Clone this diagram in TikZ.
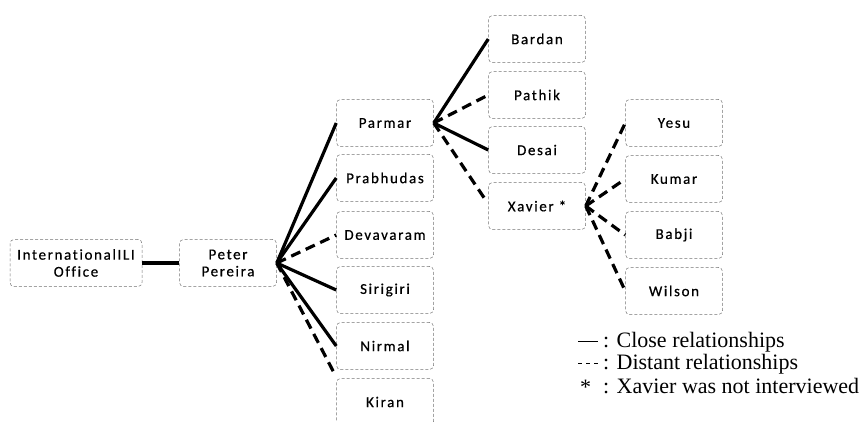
\documentclass[tikz,border=0pt]{standalone}
\usepackage{fontspec}
\setmainfont{Liberation Serif}
\newfontfamily\boxfont[LetterSpace=11,FakeBold=0.6,Ligatures={NoCommon}]{Carlito}
\begin{document}
\begin{tikzpicture}[x=1pt,y=-1pt,
  personbox/.style={draw=black!55, densely dashed, line width=0.5pt, rounded corners=4pt,
    minimum width=97pt, minimum height=47pt, align=center, inner sep=1pt,
    font=\boxfont\fontsize{15}{17}\selectfont},
  tie/.style={line width=3.2pt, line cap=butt},
  close/.style={tie},
  distant/.style={tie, dash pattern=on 10pt off 6pt},
  keyline/.style={line width=1pt},
  legendtext/.style={anchor=west, inner sep=0pt, font=\fontsize{22}{22}\selectfont}
]
\useasboundingbox (0,0) rectangle (863,422);
\begin{scope}
\clip (0,0) rectangle (863,422);
% root and first level
\node[personbox, minimum width=132pt] (ili) at (76,263) {Internati{}onalILI\\Office};
\node[personbox] (pp) at (228,263) {Peter\\Pereira};
% second column
\node[personbox] (parmar) at (385,123) {Parmar};
\node[personbox] (prabhudas) at (385,178) {Prabhudas};
\node[personbox] (devavaram) at (385,235) {Devavaram};
\node[personbox] (sirigiri) at (385,290) {Sirigiri};
\node[personbox] (nirmal) at (385,346) {Nirmal};
\node[personbox] (kiran) at (385,402) {Kiran};
% third column
\node[personbox] (bardan) at (537,39) {Bardan};
\node[personbox] (pathik) at (537,95) {Pathik};
\node[personbox] (desai) at (537,150) {Desai};
\node[personbox] (xavier) at (537,206) {Xavier *};
% fourth column
\node[personbox] (yesu) at (674,123) {Yesu};
\node[personbox] (kumar) at (674,179) {Kumar};
\node[personbox] (babji) at (674,235) {Babji};
\node[personbox] (wilson) at (674,291) {Wilson};
\end{scope}
% relationships
\draw[close] (ili) -- (pp);
\draw[close] (pp.east) -- (parmar.west);
\draw[close] (pp.east) -- (prabhudas.west);
\draw[distant] (pp.east) -- (devavaram.west);
\draw[close] (pp.east) -- (sirigiri.west);
\draw[close] (pp.east) -- (nirmal.west);
\draw[distant] (pp.east) -- ([shift={(-2,-5)}]kiran.north west);
\draw[close] (parmar.east) -- (bardan.west);
\draw[distant] (parmar.east) -- (pathik.west);
\draw[close] (parmar.east) -- (desai.west);
\draw[distant] (parmar.east) -- ([shift={(-4,-8)}]xavier.west);
\draw[distant] (xavier.east) -- (yesu.west);
\draw[distant] (xavier.east) -- (kumar.west);
\draw[distant] (xavier.east) -- (babji.west);
\draw[distant] (xavier.east) -- (wilson.west);
% legend
\coordinate (k1a) at (578,342);
\coordinate (k1b) at (598,342);
\coordinate (k2a) at (578,364);
\coordinate (k2b) at (599,364);
\draw[keyline] (k1a) -- (k1b);
\draw[keyline, dash pattern=on 4pt off 4pt] (k2a) -- (k2b);
\node[legendtext] (l1) at (603,342) {: Close relationships};
\node[legendtext] (l2) at (603,364) {: Distant relationships};
\node[legendtext] (k3) at (580,387) {*};
\node[legendtext] (l3) at (603,386) {: Xavier was not interviewed};
\end{tikzpicture}
\end{document}
